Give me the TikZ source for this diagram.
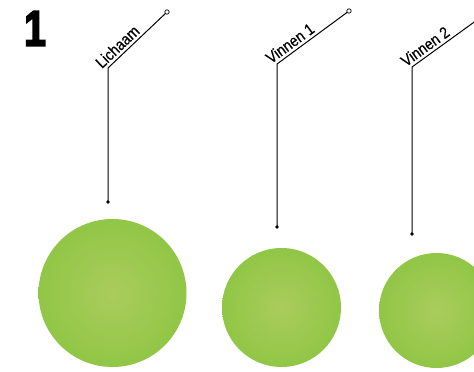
\documentclass[tikz,border=0pt]{standalone}
\usepackage{fontspec}
\setmainfont{Liberation Sans}
\newfontfamily\heavyfont[FakeBold=4]{Liberation Sans}
\newfontfamily\lblfont[FakeBold=0.6]{Liberation Sans}
\begin{document}
\begin{tikzpicture}[x=1pt,y=-1pt,
  ball/.style={inner color=ballin, outer color=ballout, draw=none},
  leader/.style={line width=1pt, black},
  enddot/.style={circle, fill=black, inner sep=0pt, minimum size=3.8pt},
  opendot/.style={circle, draw=black, fill=white, line width=0.7pt, inner sep=0pt, minimum size=4.4pt},
  lbl/.style={font=\lblfont\fontsize{16}{16}\selectfont, inner xsep=1pt, inner ysep=3pt, anchor=south west, sloped}]
\definecolor{ballin}{RGB}{170,204,92}
\definecolor{ballout}{RGB}{145,198,70}
\useasboundingbox (0,0) rectangle (474,372);
\node[font=\heavyfont\bfseries\fontsize{50}{50}\selectfont, inner sep=0pt] (num) at (35,28.5) {\scalebox{0.78}[1]{1}};
% balls
\path[ball] (112.5,293) circle (74);
\path[ball] (281.5,307.5) circle (59.5);
\path[ball] (436.5,310.5) circle (57.5);
% leader 1
\node[enddot] (d1) at (108,202) {};
\coordinate (c1) at (108,68);
\node[opendot] (o1) at (167,12) {};
\draw[leader] (d1.center) -- (c1) -- (o1);
\path (c1) -- (o1) node[lbl, pos=-0.08] (t1) {\scalebox{0.88}[1]{Lichaam}};
% leader 2
\node[enddot] (d2) at (277,227) {};
\coordinate (c2) at (277,64);
\node[opendot] (o2) at (349,11) {};
\draw[leader] (d2.center) -- (c2) -- (o2);
\path (c2) -- (o2) node[lbl, pos=-0.07] (t2) {\scalebox{0.88}[1]{Vinnen 1}};
% leader 3
\node[enddot] (d3) at (412,234) {};
\coordinate (c3) at (412,67);
\coordinate (e3) at (484,15);
\draw[leader] (d3.center) -- (c3) -- (e3);
\path (c3) -- (e3) node[lbl, pos=-0.07] (t3) {\scalebox{0.88}[1]{Vinnen 2}};
\end{tikzpicture}
\end{document}
